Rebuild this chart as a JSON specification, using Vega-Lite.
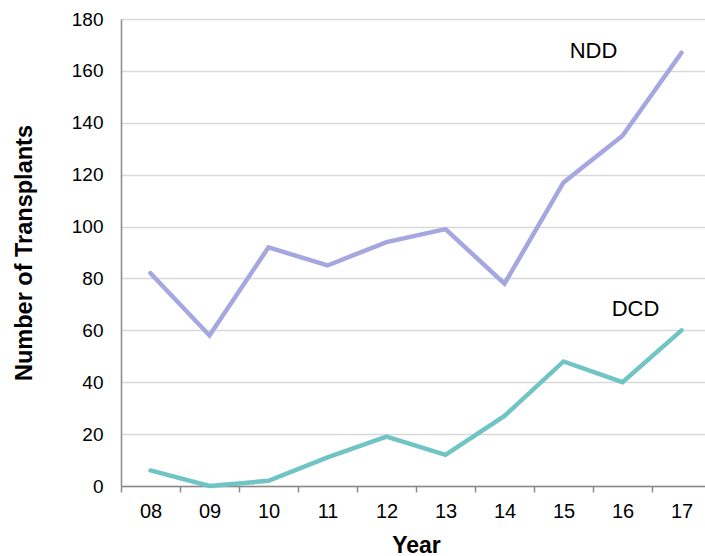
{
  "$schema": "https://vega.github.io/schema/vega-lite/v6.json",
  "width": 590,
  "height": 467,
  "autosize": {"type": "none"},
  "padding": {"left": 121, "top": 19, "right": 0, "bottom": 70},
  "background": "white",
  "config": {
    "view": {"stroke": null},
    "font": "Liberation Sans"
  },
  "datasets": {
    "series": [
      {"year": "08", "type": "NDD", "n": 82},
      {"year": "09", "type": "NDD", "n": 58},
      {"year": "10", "type": "NDD", "n": 92},
      {"year": "11", "type": "NDD", "n": 85},
      {"year": "12", "type": "NDD", "n": 94},
      {"year": "13", "type": "NDD", "n": 99},
      {"year": "14", "type": "NDD", "n": 78},
      {"year": "15", "type": "NDD", "n": 117},
      {"year": "16", "type": "NDD", "n": 135},
      {"year": "17", "type": "NDD", "n": 167},
      {"year": "08", "type": "DCD", "n": 6},
      {"year": "09", "type": "DCD", "n": 0},
      {"year": "10", "type": "DCD", "n": 2},
      {"year": "11", "type": "DCD", "n": 11},
      {"year": "12", "type": "DCD", "n": 19},
      {"year": "13", "type": "DCD", "n": 12},
      {"year": "14", "type": "DCD", "n": 27},
      {"year": "15", "type": "DCD", "n": 48},
      {"year": "16", "type": "DCD", "n": 40},
      {"year": "17", "type": "DCD", "n": 60}
    ],
    "labelNDD": [{"year": "16", "type": "NDD", "n": 165}],
    "labelDCD": [{"year": "16", "type": "DCD", "n": 65.6}]
  },
  "encoding": {
    "x": {
      "field": "year",
      "type": "ordinal",
      "sort": ["08","09","10","11","12","13","14","15","16","17"],
      "scale": {"paddingInner": 0, "paddingOuter": 0, "domain": ["08","09","10","11","12","13","14","15","16","17"]},
      "axis": {
        "title": "Year",
        "titleFont": "Liberation Sans",
        "titleFontSize": 23,
        "titleFontWeight": "bold",
        "titleColor": "black",
        "titleBaseline": "alphabetic",
        "titleY": 66,
        "labelAngle": 0,
        "labelFontSize": 20,
        "labelColor": "black",
        "labelPadding": 9,
        "domainColor": "#898989",
        "domainWidth": 1.5,
        "tickColor": "#898989",
        "tickWidth": 1.5,
        "tickSize": 6,
        "tickBand": "extent",
        "grid": false
      }
    },
    "y": {
      "field": "n",
      "type": "quantitative",
      "scale": {"domain": [0, 180], "nice": false},
      "axis": {
        "title": "Number of Transplants",
        "titleFont": "Liberation Sans",
        "titleFontSize": 23.5,
        "titleFontWeight": "bold",
        "titleColor": "black",
        "titleBaseline": "alphabetic",
        "titleX": -90,
        "titleY": 233.5,
        "values": [0,20,40,60,80,100,120,140,160,180],
        "labelFontSize": 19,
        "labelColor": "black",
        "labelPadding": 18,
        "ticks": false,
        "domainColor": "#898989",
        "domainWidth": 1.5,
        "gridColor": "#d9d9d9",
        "gridWidth": 1.5
      }
    }
  },
  "layer": [
    {
      "data": {"name": "series"},
      "mark": {"type": "line", "strokeWidth": 4.5, "strokeCap": "round", "strokeJoin": "miter"},
      "encoding": {
        "color": {
          "field": "type",
          "type": "nominal",
          "scale": {"domain": ["NDD", "DCD"], "range": ["#a6a6e0", "#70c4c4"]},
          "legend": null
        }
      }
    },
    {
      "data": {"name": "labelNDD"},
      "mark": {"type": "text", "fontSize": 22, "font": "Liberation Sans", "color": "black", "baseline": "alphabetic", "align": "center", "dx": -29},
      "encoding": {"text": {"field": "type"}}
    },
    {
      "data": {"name": "labelDCD"},
      "mark": {"type": "text", "fontSize": 22, "font": "Liberation Sans", "color": "black", "baseline": "alphabetic", "align": "center", "dx": 13},
      "encoding": {"text": {"field": "type"}}
    }
  ]
}
